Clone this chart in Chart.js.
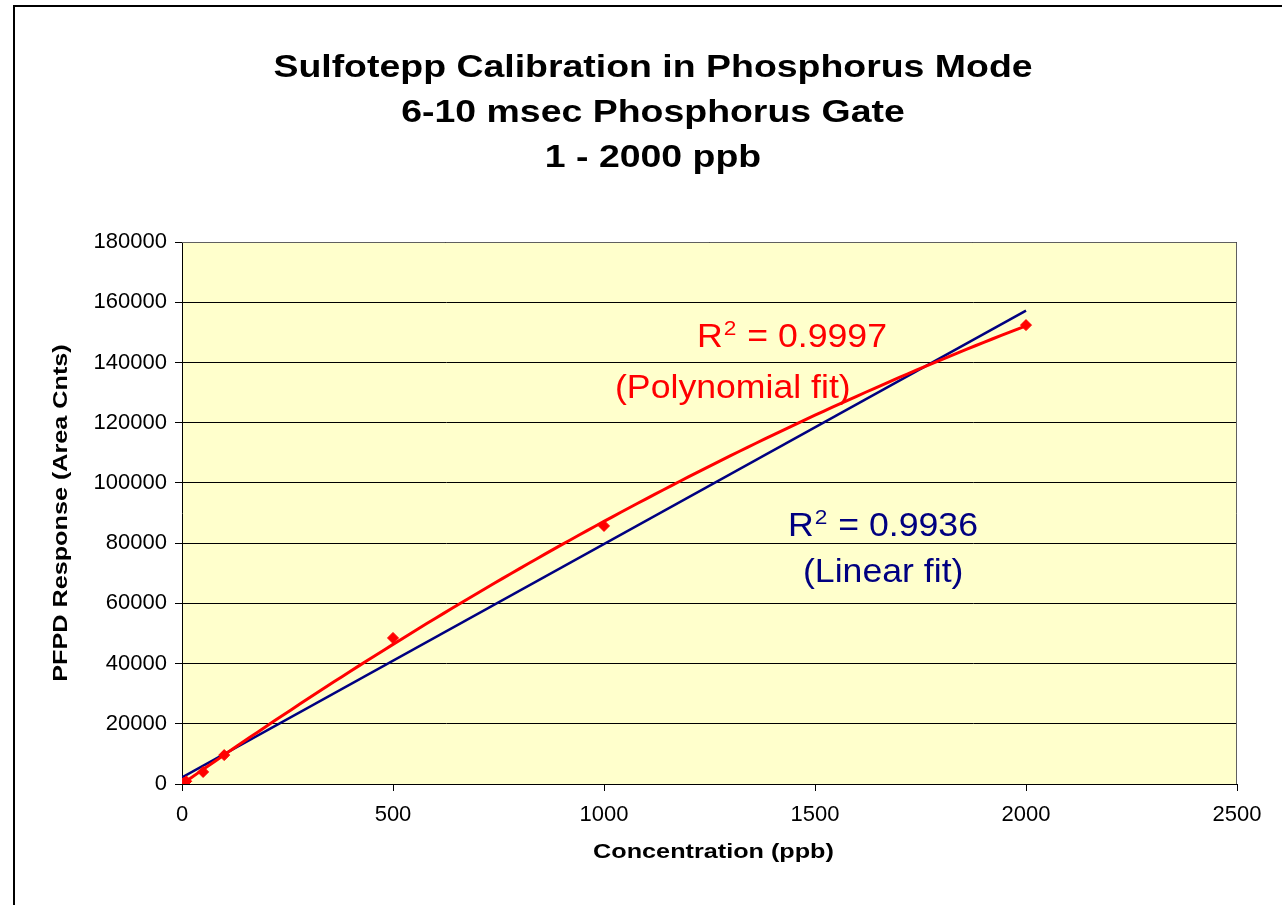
<!DOCTYPE html>
<html>
<head>
<meta charset="utf-8">
<script src="https://cdn.jsdelivr.net/npm/chart.js@4"></script>
<style>
  html, body { margin: 0; padding: 0; background: #fff; }
  #wrap { width: 1282px; height: 905px; }
</style>
</head>
<body>
<div id="wrap"><canvas id="calChart" width="1282" height="905"></canvas></div>
<script>
// calibration standards (ppb) and measured PFPD area counts
const concentrations = [1, 5, 10, 50, 100, 500, 1000, 2000];
const responses = [100, 450, 900, 4000, 9600, 48500, 85700, 152400];

const titleLines = ['Sulfotepp Calibration in Phosphorus Mode', '6-10 msec Phosphorus Gate', '1 - 2000 ppb'];
const xTitle = 'Concentration (ppb)';
const yTitle = 'PFPD Response (Area Cnts)';
const polyLabel = ['0.9997', '(Polynomial fit)'];
const linLabel = ['0.9936', '(Linear fit)'];

const FONT = '"Liberation Sans", Arial, sans-serif';

// least squares trendlines (like Excel does)
function linearFit(xs, ys) {
    const n = xs.length;
    let sx = 0, sy = 0, sxx = 0, sxy = 0;
    for (let i = 0; i < n; i++) {
        sx += xs[i]; sy += ys[i]; sxx += xs[i] * xs[i]; sxy += xs[i] * ys[i];
    }
    const b = (n * sxy - sx * sy) / (n * sxx - sx * sx);
    return { a: (sy - b * sx) / n, b: b };
}

function quadFit(xs, ys) {
    const S = [0, 0, 0, 0, 0], T = [0, 0, 0];
    for (let i = 0; i < xs.length; i++) {
        let p = 1;
        for (let k = 0; k < 5; k++) { S[k] += p; if (k < 3) T[k] += p * ys[i]; p *= xs[i]; }
    }
    const M = [[S[0], S[1], S[2], T[0]], [S[1], S[2], S[3], T[1]], [S[2], S[3], S[4], T[2]]];
    for (let c = 0; c < 3; c++) {
        for (let r = c + 1; r < 3; r++) {
            const f = M[r][c] / M[c][c];
            for (let k = c; k < 4; k++) M[r][k] -= f * M[c][k];
        }
    }
    const res = [0, 0, 0];
    for (let r = 2; r >= 0; r--) {
        let s = M[r][3];
        for (let k = r + 1; k < 3; k++) s -= M[r][k] * res[k];
        res[r] = s / M[r][r];
    }
    return res;
}

const lin = linearFit(concentrations, responses);
const quad = quadFit(concentrations, responses);
const xMax = concentrations[concentrations.length - 1];

const linPoints = [0, xMax].map(x => ({ x: x, y: lin.a + lin.b * x }));
const polyPoints = [];
for (let x = 0; x <= xMax; x += 20) {
    polyPoints.push({ x: x, y: quad[0] + quad[1] * x + quad[2] * x * x });
}
const dataPoints = concentrations.map((c, i) => ({ x: c, y: responses[i] }));

// text drawn a bit wider, the way the original export stretched its fonts
function stretchText(ctx, text, x, y, font, color, align, sx) {
    ctx.save();
    ctx.font = font;
    ctx.fillStyle = color;
    ctx.textBaseline = 'alphabetic';
    const w = ctx.measureText(text).width * sx;
    let left = x;
    if (align === 'center') left = x - w / 2;
    ctx.translate(left, y);
    ctx.scale(sx, 1);
    ctx.textAlign = 'left';
    ctx.fillText(text, 0, 0);
    ctx.restore();
    return w;
}

function rSquared(ctx, x, y, value, color) {
    const big = '33px ' + FONT, small = '21px ' + FONT, sx = 1.08;
    let cx = x;
    cx += stretchText(ctx, 'R', cx, y, big, color, 'left', sx);
    cx += stretchText(ctx, '2', cx + 1, y - 12, small, color, 'left', sx);
    stretchText(ctx, ' = ' + value, cx + 2, y, big, color, 'left', sx);
}

const decorations = {
    id: 'decorations',
    beforeDraw(chart) {
        const ctx = chart.ctx, a = chart.chartArea;
        ctx.save();
        ctx.fillStyle = '#ffffff';
        ctx.fillRect(0, 0, chart.width, chart.height);
        ctx.strokeStyle = '#000';
        ctx.lineWidth = 2;
        ctx.strokeRect(14, 6, chart.width + 20, chart.height + 20);
        ctx.fillStyle = '#FFFFCC';
        ctx.fillRect(a.left, a.top, a.right - a.left, a.bottom - a.top);
        ctx.restore();
    },
    afterDatasetsDraw(chart) {
        const ctx = chart.ctx, a = chart.chartArea;
        ctx.save();
        ctx.strokeStyle = '#606060';
        ctx.lineWidth = 1;
        ctx.beginPath();
        ctx.moveTo(a.left, a.top + 0.5);
        ctx.lineTo(a.right - 0.5, a.top + 0.5);
        ctx.lineTo(a.right - 0.5, a.bottom);
        ctx.stroke();
        ctx.restore();
    },
    afterDraw(chart) {
        const ctx = chart.ctx, a = chart.chartArea;
        const mid = (a.left + a.right) / 2;
        const tf = 'bold 32px ' + FONT;
        stretchText(ctx, titleLines[0], 653, 77, tf, '#000', 'center', 1.17);
        stretchText(ctx, titleLines[1], 653, 122, tf, '#000', 'center', 1.17);
        stretchText(ctx, titleLines[2], 653, 167, tf, '#000', 'center', 1.17);

        const af = 'bold 21px ' + FONT;
        stretchText(ctx, xTitle, mid + 4, 858, af, '#000', 'center', 1.2);
        ctx.save();
        ctx.translate(67, (a.top + a.bottom) / 2);
        ctx.rotate(-Math.PI / 2);
        stretchText(ctx, yTitle, 0, 0, af, '#000', 'center', 1.2);
        ctx.restore();

        rSquared(ctx, 697, 347, polyLabel[0], '#FF0000');
        stretchText(ctx, polyLabel[1], 615, 398, '33px ' + FONT, '#FF0000', 'left', 1.08);
        rSquared(ctx, 788, 536, linLabel[0], '#000080');
        stretchText(ctx, linLabel[1], 803, 582, '33px ' + FONT, '#000080', 'left', 1.08);
    }
};

new Chart(document.getElementById('calChart'), {
    type: 'scatter',
    data: {
        datasets: [{
            label: 'Polynomial fit',
            data: polyPoints,
            showLine: true,
            borderColor: '#FF0000',
            borderWidth: 3,
            pointRadius: 0,
            tension: 0
        }, {
            label: 'Linear fit',
            data: linPoints,
            showLine: true,
            borderColor: '#000080',
            borderWidth: 2.5,
            pointRadius: 0,
            order: 1
        }, {
            label: 'Sulfotepp',
            data: dataPoints,
            pointStyle: 'rectRot',
            pointRadius: 5.5,
            backgroundColor: '#FF0000',
            borderColor: '#FF0000',
            borderWidth: 1,
            order: -1
        }]
    },
    options: {
        responsive: false,
        animation: false,
        events: [],
        layout: { padding: { left: 0, top: 242, right: 45, bottom: 0 } },
        plugins: { legend: { display: false }, tooltip: { enabled: false }, title: { display: false } },
        scales: {
            x: {
                type: 'linear',
                min: 0, max: 2500,
                afterFit: s => { s.height = 121; },
                ticks: {
                    stepSize: 500, color: '#000', padding: 11,
                    font: { family: FONT, size: 22 },
                    callback: v => String(v)
                },
                grid: { drawOnChartArea: false, color: '#000', tickLength: 7 },
                border: { color: '#000', width: 1 }
            },
            y: {
                type: 'linear',
                min: 0, max: 180000,
                afterFit: s => { s.width = 182; },
                ticks: {
                    stepSize: 20000, color: '#000', padding: 8,
                    font: { family: FONT, size: 22 },
                    callback: v => String(v)
                },
                grid: { color: '#000', tickLength: 7 },
                border: { color: '#000', width: 1 }
            }
        }
    },
    plugins: [decorations]
});
</script>
</body>
</html>
